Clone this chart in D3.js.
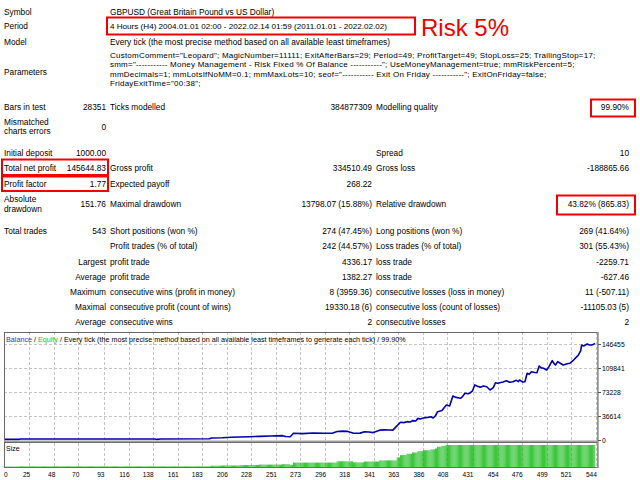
<!DOCTYPE html>
<html>
<head>
<meta charset="utf-8">
<script src="https://cdn.jsdelivr.net/npm/d3@7"></script>
<style>
  body { margin: 0; background: #fff; }
  svg { display: block; font-family: "Liberation Sans", Arial, sans-serif; }
</style>
</head>
<body>
<script>
// ---- report text ----
const headerRows = [
  ['Symbol', 'GBPUSD (Great Britain Pound vs US Dollar)'],
  ['Period', '4 Hours (H4) 2004.01.01 02:00 - 2022.02.14 01:59 (2011.01.01 - 2022.02.02)'],
  ['Model', 'Every tick (the most precise method based on all available least timeframes)']
];
const paramLines = [
  'CustomComment="Leopard"; MagicNumber=11111; ExitAfterBars=29; Period=49; ProfitTarget=49; StopLoss=25; TrailingStop=17;',
  'smm="----------- Money Management - Risk Fixed % Of Balance -----------"; UseMoneyManagement=true; mmRiskPercent=5;',
  'mmDecimals=1; mmLotsIfNoMM=0.1; mmMaxLots=10; seof="----------- Exit On Friday -----------"; ExitOnFriday=false;',
  'FridayExitTime="00:38";'
];
const statRows = [
  ['Bars in test', '28351', 'Ticks modelled', '384877309', 'Modelling quality', '99.90%'],
  ['Mismatched\ncharts errors', '0', '', '', '', ''],
  ['Initial deposit', '1000.00', '', '', 'Spread', '10'],
  ['Total net profit', '145644.83', 'Gross profit', '334510.49', 'Gross loss', '-188865.66'],
  ['Profit factor', '1.77', 'Expected payoff', '268.22', '', ''],
  ['Absolute\ndrawdown', '151.76', 'Maximal drawdown', '13798.07 (15.88%)', 'Relative drawdown', '43.82% (865.83)'],
  ['Total trades', '543', 'Short positions (won %)', '274 (47.45%)', 'Long positions (won %)', '269 (41.64%)'],
  ['', '', 'Profit trades (% of total)', '242 (44.57%)', 'Loss trades (% of total)', '301 (55.43%)']
];
const tradeRows = [
  ['Largest', 'profit trade', '4336.17', 'loss trade', '-2259.71'],
  ['Average', 'profit trade', '1382.27', 'loss trade', '-627.46'],
  ['Maximum', 'consecutive wins (profit in money)', '8 (3959.36)', 'consecutive losses (loss in money)', '11 (-507.11)'],
  ['Maximal', 'consecutive profit (count of wins)', '19330.18 (6)', 'consecutive loss (count of losses)', '-11105.03 (5)'],
  ['Average', 'consecutive wins', '2', 'consecutive losses', '2']
];
const legendParts = ['Balance', ' / ', 'Equity', ' / Every tick (the most precise method based on all available least timeframes to generate each tick) / 99.90%'];
const riskNote = 'Risk 5%';

// ---- chart data: [trade #, balance] ----
const balance = [
  [0,1000],[16,1000],[17,1500],[140,1600],[142,900],[145,1600],[190,1800],[192,3000],[202,3500],
  [210,4200],[218,4600],[226,4900],[236,5600],[246,6000],[257,6600],[260,5400],[264,5000],[267,10200],
  [275,9800],[285,10600],[295,10300],[303,10500],[307,13000],[312,13500],[316,13200],[322,10300],
  [328,10500],[332,12700],[336,12200],[340,11300],[346,15000],[350,15500],[355,15200],[358,15000],
  [362,22000],[365,27000],[368,26500],[371,28000],[374,27500],[376,29500],[379,29000],[381,33000],
  [383,32000],[386,33500],[390,34500],[393,35500],[395,33500],[397,37000],[399,43200],[403,45000],
  [407,53400],[410,52000],[413,67000],[416,65000],[420,63600],[422,66500],[424,71200],[427,70500],
  [429,72200],[431,75000],[433,84000],[435,82500],[438,80400],[441,82500],[444,81300],[447,76300],
  [450,80000],[452,87400],[454,86500],[456,87400],[459,88500],[462,90500],[465,88000],[468,88900],
  [471,91000],[473,89000],[474,91500],[477,88500],[479,88900],[481,101800],[483,100500],[485,104200],
  [488,103000],[490,102700],[492,112900],[494,110000],[496,109400],[499,106800],[501,112000],
  [504,121000],[506,116000],[507,114400],[509,119500],[511,117500],[514,114400],[517,116000],
  [520,117000],[523,121000],[525,124600],[528,129700],[530,136000],[531,144900],[533,143500],
  [536,146500],[538,145000],[540,144900],[542,146000],[543,147600]
];
// [first trade, lot size] steps of the Size panel
const lotSteps = [
  [0,0.2],[17,0.3],[192,0.6],[202,0.7],[218,0.9],[236,1.1],[257,1.3],[264,1.0],[267,2.0],
  [307,2.6],[322,2.1],[332,2.5],[346,3.0],[362,4.4],[365,5.4],[371,6.0],[376,6.6],[381,7.2],
  [386,7.6],[393,8.0],[397,8.4],[399,9.2],[403,9.6],[407,10]
];
const totalTrades = 543;
const yTicks = [0, 36614, 73228, 109841, 146455];
const xTicks = [0,25,48,70,93,116,138,161,183,206,228,251,273,296,318,341,363,386,408,431,454,476,499,521,544];

// ---- svg ----
const width = 640, height = 480;
const svg = d3.select('body').append('svg')
  .attr('width', width)
  .attr('height', height);

const fs = 8.3;
function txt(x, yc, s, anchor, size) {
  return svg.append('text')
    .attr('x', x)
    .attr('y', yc + 3)
    .attr('font-size', size || fs)
    .attr('text-anchor', anchor || 'start')
    .attr('fill', '#000')
    .text(s);
}

// header
const headerY = [11.7, 26, 41.7];
headerRows.forEach((r, i) => {
  txt(4, headerY[i], r[0]);
  txt(110, headerY[i], r[1], 'start', i === 1 ? 8.1 : fs);
});
txt(4, 71.7, 'Parameters');
// parameter block: tight lines, slightly tracked out
paramLines.forEach((l, i) => txt(110, 55.2 + i * 9.2, l, 'start', 8.0).attr('letter-spacing', 0.22));

// stats
const col = { l0: 4, v1: 106, l2: 110, v3: 372, l4: 376, v5: 629 };
const statY = [106.7, 126.7, 153.3, 168.3, 184.3, 204.3, 231, 246];
statRows.forEach((r, i) => {
  const y = statY[i];
  const parts = r[0].split('\n');
  if (parts.length > 1) {
    txt(col.l0, y - 5, parts[0]);
    txt(col.l0, y + 4.5, parts[1]);
  } else if (r[0]) txt(col.l0, y, r[0]);
  if (r[1]) txt(col.v1, y, r[1], 'end');
  if (r[2]) txt(col.l2, y, r[2]);
  if (r[3]) txt(col.v3, y, r[3], 'end');
  if (r[4]) txt(col.l4, y, r[4]);
  if (r[5]) txt(col.v5, y, r[5], 'end');
});
const tradeY = [261.7, 276.6, 291.7, 306.7, 321.7];
tradeRows.forEach((r, i) => {
  const y = tradeY[i];
  txt(col.v1, y, r[0], 'end');
  txt(col.l2, y, r[1]);
  txt(col.v3, y, r[2], 'end');
  txt(col.l4, y, r[3]);
  txt(col.v5, y, r[4], 'end');
});

// red highlight boxes + note
const red = '#f00000';
[[107, 17.5, 308, 17], [591, 99.5, 44, 17], [2, 159.5, 106, 15.5], [2, 176.5, 106, 14.5], [557, 195.5, 78, 19]]
  .forEach(b => svg.append('rect')
    .attr('x', b[0]).attr('y', b[1]).attr('width', b[2]).attr('height', b[3])
    .attr('fill', 'none').attr('stroke', red).attr('stroke-width', 2));
svg.append('text')
  .attr('x', 421).attr('y', 35.5)
  .attr('font-size', 24)
  .attr('fill', red)
  .text(riskNote);

// ---- chart ----
const plot = { left: 4, right: 598, top: 332, bottom: 441 };
const sizeBox = { top: 443, bottom: 468 };

const xScale = d3.scaleLinear().domain([0, 545]).range([2, 597]);
const yScale = d3.scaleLinear().domain([0, 146455]).range([440, 344]);
const ySize = d3.scaleLinear().domain([0, 10]).range([467, 445]);

svg.append('defs').append('clipPath').attr('id', 'clipMain')
  .append('rect')
  .attr('x', plot.left).attr('y', plot.top)
  .attr('width', plot.right - plot.left).attr('height', plot.bottom - plot.top);

const grid = '#c4c4c4';
// vertical grid lines (both panels)
xTicks.filter(d => d > 0).forEach(d => {
  const gx = Math.round(xScale(d)) + 0.5;
  [[plot.top, plot.bottom], [sizeBox.top, sizeBox.bottom]].forEach(p => {
    svg.append('line')
      .attr('x1', gx).attr('x2', gx).attr('y1', p[0]).attr('y2', p[1])
      .attr('stroke', grid).attr('stroke-dasharray', '3,2');
  });
});
// horizontal grid lines
yTicks.filter(d => d > 0).forEach(d => {
  const gy = Math.round(yScale(d)) + 0.5;
  svg.append('line')
    .attr('x1', plot.left).attr('x2', plot.right).attr('y1', gy).attr('y2', gy)
    .attr('stroke', grid).attr('stroke-dasharray', '3,2');
});

// size bars
function lotsAt(t) {
  let v = 0;
  lotSteps.forEach(s => { if (t >= s[0]) v = s[1]; });
  return v;
}
svg.append('g').selectAll('rect')
  .data(d3.range(1, totalTrades + 1))
  .enter()
  .append('rect')
  .attr('x', d => xScale(d) - 0.4)
  .attr('width', 0.8)
  .attr('y', d => ySize(lotsAt(d)))
  .attr('height', d => ySize(0) - ySize(lotsAt(d)))
  .attr('fill', '#10b810');

// balance line
const line = d3.line()
  .x(d => xScale(d[0]))
  .y(d => yScale(d[1]));
svg.append('path')
  .datum(balance)
  .attr('clip-path', 'url(#clipMain)')
  .attr('d', line)
  .attr('fill', 'none')
  .attr('stroke', '#0000b0')
  .attr('stroke-width', 1.6)
  .attr('stroke-linejoin', 'round');

// frames
svg.append('rect')
  .attr('x', plot.left + 0.5).attr('y', plot.top + 0.5)
  .attr('width', plot.right - plot.left - 1).attr('height', plot.bottom - plot.top)
  .attr('fill', 'none').attr('stroke', '#6a6a6a');
svg.append('rect')
  .attr('x', plot.left).attr('y', plot.bottom - 0.5)
  .attr('width', plot.right - plot.left).attr('height', 2)
  .attr('fill', '#a0a0a0');
svg.append('rect')
  .attr('x', plot.left + 0.5).attr('y', sizeBox.top - 0.5)
  .attr('width', plot.right - plot.left - 1).attr('height', sizeBox.bottom - sizeBox.top)
  .attr('fill', 'none').attr('stroke', '#6a6a6a');
svg.append('line')
  .attr('x1', plot.right).attr('x2', plot.right)
  .attr('y1', plot.top).attr('y2', sizeBox.bottom)
  .attr('stroke', '#9a9a9a').attr('stroke-width', 1.6);

// y axis labels (right side)
yTicks.forEach(d => {
  const gy = Math.round(yScale(d)) + 0.5;
  svg.append('line')
    .attr('x1', plot.right).attr('x2', plot.right + 3).attr('y1', gy).attr('y2', gy)
    .attr('stroke', '#555');
  svg.append('text')
    .attr('x', plot.right + 4).attr('y', gy + 2.5)
    .attr('font-size', 6.8)
    .text(d);
});

// x axis labels
xTicks.forEach(d => {
  svg.append('text')
    .attr('x', d === 0 ? 4 : xScale(d) + 1)
    .attr('y', 476.5)
    .attr('font-size', 6.6)
    .attr('text-anchor', d === 0 ? 'start' : 'end')
    .text(d);
});

// legend
const legendColors = ['#3030e0', '#000', '#20c020', '#000'];
const lg = svg.append('text').attr('x', 6).attr('y', 341.8).attr('font-size', 7.2);
legendParts.forEach((p, i) => lg.append('tspan').attr('fill', legendColors[i]).text(p));

svg.append('text').attr('x', 6).attr('y', 451).attr('font-size', 7).text('Size');
</script>
</body>
</html>
